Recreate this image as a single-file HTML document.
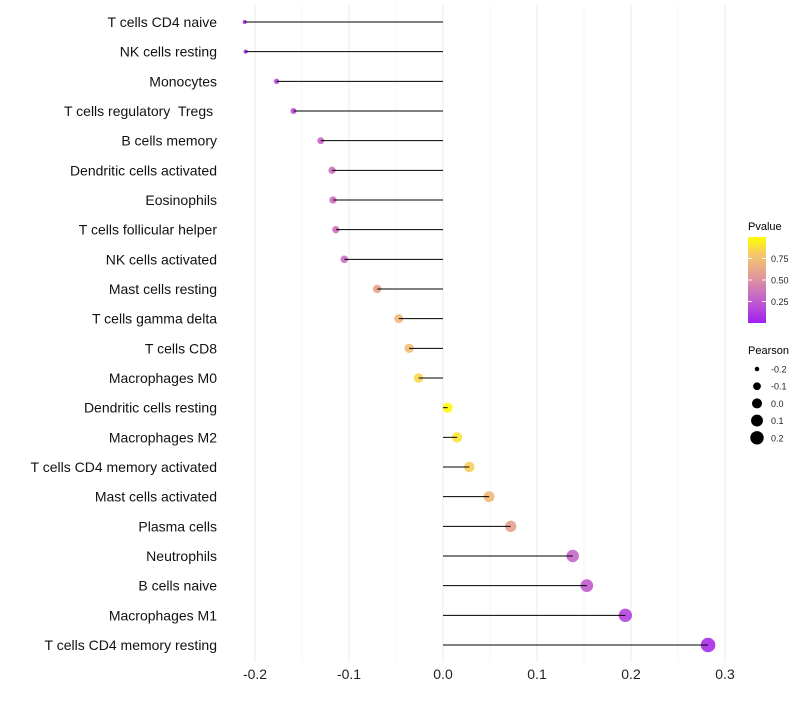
<!DOCTYPE html>
<html><head><meta charset="utf-8"><style>
body{margin:0;background:#fff;font-family:"Liberation Sans",sans-serif}
svg text{font-family:"Liberation Sans",sans-serif;white-space:pre}
</style></head><body>
<svg id="chart" width="800" height="700" xmlns="http://www.w3.org/2000/svg">
<defs><linearGradient id="pg" x1="0" y1="1" x2="0" y2="0">
<stop offset="0" stop-color="#a020f0"/><stop offset="0.3" stop-color="#c766c8"/><stop offset="0.55" stop-color="#e29a96"/><stop offset="0.8" stop-color="#f5c86a"/><stop offset="1" stop-color="#ffff00"/></linearGradient></defs>
<g id="grid"></g><g id="dots"></g><g id="marks"></g><g id="ylab"></g><g id="xlab"></g>
<g>
<text x="748" y="230" font-size="11">Pvalue</text>
<rect x="748" y="237" width="18" height="86" fill="url(#pg)"/>
<g id="cbticks"></g></g>
<g>
<text x="748" y="354" font-size="11">Pearson</text><g id="sizeleg"></g></g>
</svg>
<script>
const categories=["T cells CD4 naive","NK cells resting","Monocytes","T cells regulatory  Tregs ","B cells memory","Dendritic cells activated","Eosinophils","T cells follicular helper","NK cells activated","Mast cells resting","T cells gamma delta","T cells CD8","Macrophages M0","Dendritic cells resting","Macrophages M2","T cells CD4 memory activated","Mast cells activated","Plasma cells","Neutrophils","B cells naive","Macrophages M1","T cells CD4 memory resting"];
const pearson=[-0.211,-0.210,-0.177,-0.159,-0.130,-0.118,-0.117,-0.114,-0.105,-0.070,-0.047,-0.036,-0.026,0.005,0.015,0.028,0.049,0.072,0.138,0.153,0.194,0.282];
const pvalue=[0.05,0.05,0.18,0.2,0.3,0.35,0.35,0.36,0.35,0.6,0.72,0.74,0.85,0.98,0.9,0.82,0.72,0.58,0.3,0.25,0.15,0.05];
const xTicks=[-0.2,-0.1,0.0,0.1,0.2,0.3];
const xTickLabels=["-0.2","-0.1","0.0","0.1","0.2","0.3"];
const pTicks=[0.25,0.5,0.75];
const pTickLabels=["0.25","0.50","0.75"];
const sizeTicks=[-0.2,-0.1,0.0,0.1,0.2];
const sizeTickLabels=["-0.2","-0.1","0.0","0.1","0.2"];
const NS="http://www.w3.org/2000/svg";
const x=v=>443+v*940;
const y=i=>22+i*(623/21);
const r=v=>Math.sqrt(Math.max(1,4+(v+0.211)*100));
function mk(t,a,p){const e=document.createElementNS(NS,t);for(const k in a)e.setAttribute(k,a[k]);p.appendChild(e);return e;}
function lerp(a,b,t){return a.map((v,i)=>Math.round(v+(b[i]-v)*t));}
const stops=[[0,[160,32,240]],[0.3,[199,102,200]],[0.55,[226,154,150]],[0.8,[245,200,106]],[1,[255,255,0]]];
function col(p){for(let i=1;i<stops.length;i++){if(p<=stops[i][0]){const t=(p-stops[i-1][0])/(stops[i][0]-stops[i-1][0]);const c=lerp(stops[i-1][1],stops[i][1],t);return `rgb(${c})`;}}return "rgb(255,255,0)";}
const g=document.getElementById("grid"),m=document.getElementById("marks"),dg=document.getElementById("dots"),yl=document.getElementById("ylab"),xl=document.getElementById("xlab");
for(let v=-0.2;v<=0.301;v+=0.05){const l=mk("line",{x1:x(v),x2:x(v),y1:5,y2:662,stroke:"#ebebeb","stroke-width":Math.abs(Math.round(v*100)%10)<1?1:0.5},g);

}
xTicks.forEach((v,i)=>{const t=mk("text",{x:x(v),y:679,"font-size":14,"text-anchor":"middle",fill:"#222"},xl);t.textContent=xTickLabels[i];

});
categories.forEach((c,i)=>{
const t=mk("text",{x:217,y:y(i)+5,"font-size":14,"text-anchor":"end",fill:"#111"},yl);t.textContent=c;


const d=mk("circle",{cx:x(pearson[i]),cy:y(i),r:r(pearson[i]),fill:col(pvalue[i]),"fill-opacity":0.9},dg);


const l=mk("line",{x1:x(0),x2:x(pearson[i]),y1:y(i),y2:y(i),stroke:"#000","stroke-width":1},m);


});
const cb=document.getElementById("cbticks");
pTicks.forEach((p,i)=>{const yy=323-p*86;
const l=mk("line",{x1:748,x2:752,y1:yy,y2:yy,stroke:"#fff"},cb);
const l2=mk("line",{x1:762,x2:766,y1:yy,y2:yy,stroke:"#fff"},cb);
const t=mk("text",{x:771,y:yy+3.5,"font-size":9,fill:"#222"},cb);t.textContent=pTickLabels[i];

});
const sl=document.getElementById("sizeleg");
sizeTicks.forEach((v,i)=>{const yy=369+i*17.2;
const c=mk("circle",{cx:757,cy:yy,r:r(v),fill:"#000"},sl);
const t=mk("text",{x:771,y:yy+3.5,"font-size":9,fill:"#222"},sl);t.textContent=sizeTickLabels[i];

});
</script>
</body></html>
